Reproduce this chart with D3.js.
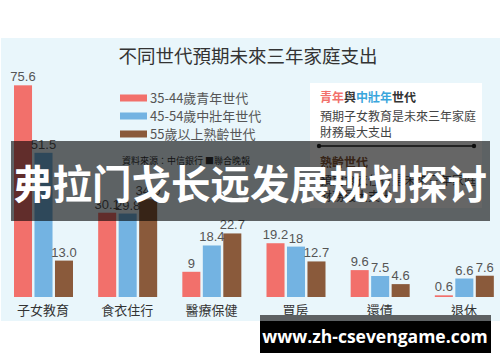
<!DOCTYPE html>
<html>
<head>
<meta charset="utf-8">
<script src="https://cdn.jsdelivr.net/npm/d3@7"></script>
<style>
  html, body { margin: 0; padding: 0; background: #fff; }
  svg { display: block; }
</style>
</head>
<body>
<div id="chart"></div>
<script>
// data
var categories = ['子女教育', '食衣住行', '醫療保健', '買房', '還債', '退休'];
var seriesNames = ['35-44歲青年世代', '45-54歲中壯年世代', '55歲以上熟齡世代'];
var youngValues = [75.6, 30.1, 9, 19.2, 9.6, 0.6];
var middleValues = [51.5, 29.8, 18.4, 18, 7.5, 6.6];
var seniorValues = [13.0, 34.9, 22.7, 12.7, 4.6, 7.6];
var youngLabels = ['75.6', '30.1', '9', '19.2', '9.6', '0.6'];
var middleLabels = ['51.5', '29.8', '18.4', '18', '7.5', '6.6'];
var seniorLabels = ['13.0', '34.9', '22.7', '12.7', '4.6', '7.6'];

var W = 500, H = 362;
var colors = ['#f2706b', '#73b3e2', '#8a5a3b'];
var tcFont = '"Noto Sans CJK TC", "Noto Sans", sans-serif';

var svg = d3.select('#chart').append('svg')
    .attr('width', W)
    .attr('height', H);

// фон панели
svg.append('rect')
    .attr('x', 1).attr('y', 38)
    .attr('width', 499).attr('height', 283)
    .attr('fill', '#e9f6fb');

// заголовок
svg.append('text')
    .attr('x', 248).attr('y', 63)
    .attr('text-anchor', 'middle')
    .attr('font-family', tcFont)
    .attr('font-size', 18.5)
    .attr('fill', '#333')
    .text('不同世代預期未來三年家庭支出');

// scales
var x = d3.scaleBand().domain(categories).range([0, 505]).padding(0);
var xInner = d3.scaleBand().domain(d3.range(3)).range([14, 73]).paddingInner(0.12);
var y = d3.scaleLinear().domain([0, 80]).range([297, 73]);

var rows = categories.map(function (c, i) {
    return {
        cat: c,
        vals: [youngValues[i], middleValues[i], seniorValues[i]],
        labels: [youngLabels[i], middleLabels[i], seniorLabels[i]]
    };
});

var groups = svg.selectAll('g.grp').data(rows).enter().append('g')
    .attr('class', 'grp')
    .attr('transform', function (d) { return 'translate(' + x(d.cat) + ',0)'; });

groups.selectAll('rect').data(function (d) { return d.vals; }).enter().append('rect')
    .attr('x', function (d, j) { return xInner(j); })
    .attr('y', function (d) { return y(d); })
    .attr('width', xInner.bandwidth())
    .attr('height', function (d) { return y(0) - y(d); })
    .attr('fill', function (d, j) { return colors[j]; });

groups.selectAll('text.val').data(function (d) {
    return d.vals.map(function (v, j) { return {v: v, t: d.labels[j], j: j}; });
}).enter().append('text')
    .attr('class', 'val')
    .attr('x', function (d) { return xInner(d.j) + xInner.bandwidth() / 2; })
    .attr('y', function (d) { return y(d.v) - 4; })
    .attr('text-anchor', 'middle')
    .attr('font-family', '"Liberation Sans", Arial, sans-serif')
    .attr('font-size', 13)
    .attr('fill', '#555')
    .text(function (d) { return d.t; });

groups.append('text')
    .attr('x', x.bandwidth() / 2 + 1)
    .attr('y', 315)
    .attr('text-anchor', 'middle')
    .attr('font-family', tcFont)
    .attr('font-size', 13)
    .attr('fill', '#333')
    .text(function (d) { return d.cat; });

// легенда
var legend = svg.selectAll('g.leg').data(seriesNames).enter().append('g')
    .attr('class', 'leg')
    .attr('transform', function (d, i) { return 'translate(120,' + [98, 116, 134][i] + ')'; });
legend.append('rect')
    .attr('x', 0).attr('y', -3.5)
    .attr('width', 27).attr('height', 7)
    .attr('fill', function (d, i) { return colors[i]; });
legend.append('text')
    .attr('x', 30).attr('y', 5)
    .attr('font-family', tcFont)
    .attr('font-size', 13)
    .attr('fill', '#555')
    .text(function (d) { return d; });

// источник
svg.append('text')
    .attr('x', 122).attr('y', 164)
    .attr('font-family', tcFont)
    .attr('font-size', 9)
    .attr('fill', '#333')
    .text('資料來源：中信銀行 ■聯合晚報');

// блок с пояснением
svg.append('rect')
    .attr('x', 310).attr('y', 83)
    .attr('width', 172).attr('height', 125)
    .attr('fill', '#fff');
var head = svg.append('text')
    .attr('x', 320).attr('y', 102)
    .attr('font-family', tcFont)
    .attr('font-size', 12)
    .attr('font-weight', 'bold');
head.append('tspan').attr('fill', colors[0]).text('青年');
head.append('tspan').attr('fill', '#333').text('與');
head.append('tspan').attr('fill', '#3aa6dc').text('中壯年');
head.append('tspan').attr('fill', '#333').text('世代');
[['預期子女教育是未來三年家庭', 121], ['財務最大支出', 137]].forEach(function (l) {
    svg.append('text')
        .attr('x', 320).attr('y', l[1])
        .attr('font-family', tcFont)
        .attr('font-size', 12)
        .attr('fill', '#444')
        .text(l[0]);
});
svg.append('line')
    .attr('x1', 319).attr('x2', 474)
    .attr('y1', 146).attr('y2', 146)
    .attr('stroke', '#222').attr('stroke-width', 1.5);
[319, 474].forEach(function (cx) {
    svg.append('circle').attr('cx', cx).attr('cy', 146).attr('r', 2.2).attr('fill', '#222');
});
svg.append('text')
    .attr('x', 320).attr('y', 167)
    .attr('font-family', tcFont)
    .attr('font-size', 12)
    .attr('font-weight', 'bold')
    .attr('fill', colors[2])
    .text('熟齡世代');
[['預期食衣住行是未來三年家庭', 185], ['財務最大支出', 201]].forEach(function (l) {
    svg.append('text')
        .attr('x', 320).attr('y', l[1])
        .attr('font-family', tcFont)
        .attr('font-size', 12)
        .attr('fill', '#444')
        .text(l[0]);
});

// баннер поверх
svg.append('rect')
    .attr('x', 11).attr('y', 141)
    .attr('width', 479).attr('height', 80)
    .attr('fill', 'rgba(0,0,0,0.6)');
svg.append('text')
    .attr('x', 250).attr('y', 199)
    .attr('text-anchor', 'middle')
    .attr('font-family', '"Noto Sans CJK SC", sans-serif')
    .attr('font-size', 39.5)
    .attr('font-weight', 'bold')
    .attr('fill', '#fff')
    .text('弗拉门戈长远发展规划探讨');

// водяной знак
svg.append('rect')
    .attr('x', 260).attr('y', 315)
    .attr('width', 231).attr('height', 6)
    .attr('fill', '#5d6163');
svg.append('rect')
    .attr('x', 260).attr('y', 321)
    .attr('width', 231).attr('height', 32)
    .attr('fill', '#000');
svg.append('text')
    .attr('x', 375).attr('y', 343)
    .attr('text-anchor', 'middle')
    .attr('font-family', '"Open Sans", sans-serif')
    .attr('font-size', 17.5)
    .attr('font-weight', 'bold')
    .attr('fill', '#fff')
    .text('www.zh-csevengame.com');
</script>
</body>
</html>
